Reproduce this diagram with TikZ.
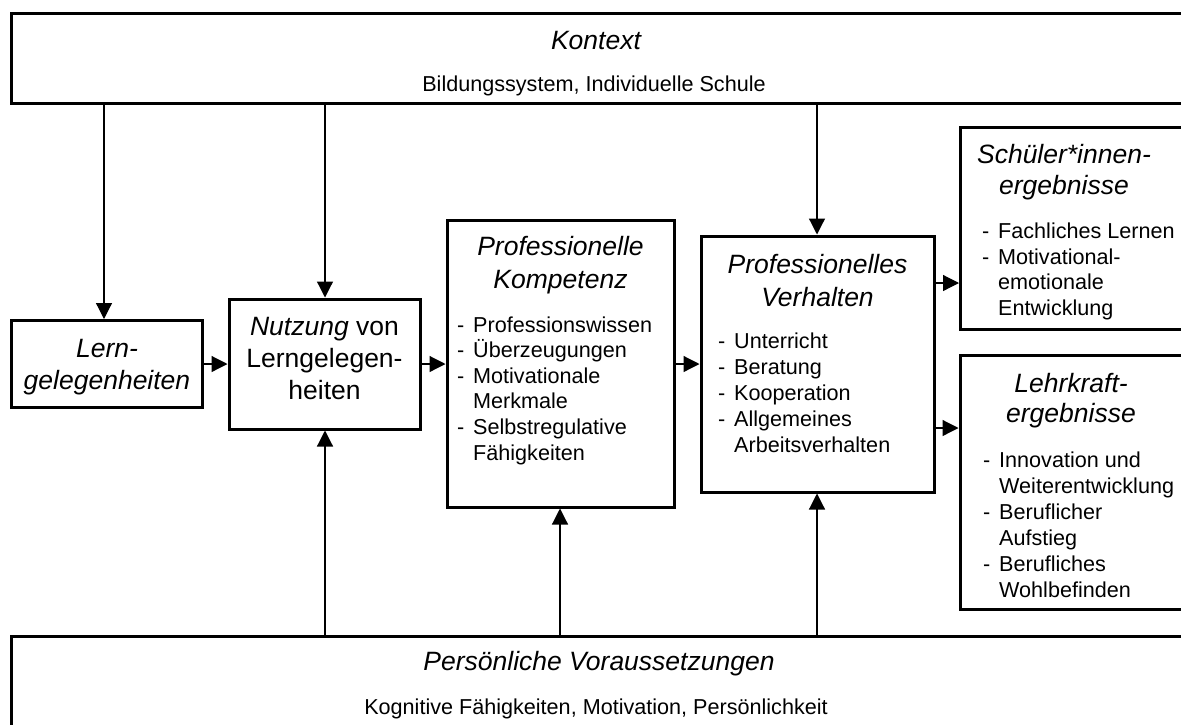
\documentclass[tikz,border=0pt]{standalone}
\usepackage{fontspec}
\setmainfont{Liberation Sans}
\usetikzlibrary{arrows.meta}
\newcommand\itm[1]{\makebox[16pt][l]{-}#1}
\newcommand\cnt[1]{\hspace*{16pt}#1}
\begin{document}
\begin{tikzpicture}[x=1pt,y=-1pt,
  box/.style={draw=black, line width=3pt, rectangle, inner sep=0pt},
  arr/.style={line width=1.2pt, -{Triangle[length=16pt,width=16pt]}},
  ttl/.style={inner sep=0pt, anchor=base, align=center, font=\fontsize{26.5}{32}\selectfont\itshape},
  ttlup/.style={inner sep=0pt, anchor=base, align=center, font=\fontsize{26.5}{32}\selectfont},
  sub/.style={inner sep=0pt, anchor=base, font=\fontsize{21.6}{26}\selectfont},
  lst/.style={inner sep=0pt, anchor=base west, align=left, font=\fontsize{21.6}{25.8}\selectfont},
]
\useasboundingbox (0,0) rectangle (1181,724);
\fill[white] (0,0) rectangle (1181,724);
\clip (0,0) rectangle (1181,724);

% boxes
\node[box, minimum width=1188.5pt, minimum height=90.5pt] (kontext) at (605.75,58.25) {};
\node[box, minimum width=1188.5pt, minimum height=144pt] (pers) at (605.75,708) {};
\node[box, minimum width=190.5pt, minimum height=86.5pt] (lern) at (106.75,363.75) {};
\node[box, minimum width=191pt, minimum height=130pt] (nutz) at (324.5,364) {};
\node[box, minimum width=227pt, minimum height=287pt] (komp) at (560.5,363.5) {};
\node[box, minimum width=233pt, minimum height=256pt] (verh) at (817.5,364) {};
\node[box, minimum width=239.5pt, minimum height=202pt] (schuel) at (1080.25,228) {};
\node[box, minimum width=240pt, minimum height=254pt] (lehr) at (1080,482) {};

% texts (multi-line nodes are placed by the baseline of their last line)
\node[ttl] (kontextT) at (596,49.5) {Kontext};
\node[sub] (kontextS) at (594,91) {Bildungssystem, Individuelle Schule};
\node[ttl] (persT) at (599,670) {Persönliche Voraussetzungen};
\node[sub] (persS) at (596,714) {Kognitive Fähigkeiten, Motivation, Persönlichkeit};

\node[ttl] (lernT) at (107,389) {Lern-\\gelegenheiten};
\node[ttlup] (nutzT) at (324.5,399) {\textit{Nutzung} von\\Lerngelegen-\\heiten};

\node[ttl, font=\fontsize{26.5}{33}\selectfont\itshape] (kompT) at (560.5,288) {Professionelle\\Kompetenz};
\node[lst, font=\fontsize{21.6}{25.6}\selectfont] (kompL) at (457,460) {\itm{Professionswissen}\\\itm{Überzeugungen}\\\itm{Motivationale}\\\cnt{Merkmale}\\\itm{Selbstregulative}\\\cnt{Fähigkeiten}};

\node[ttl, font=\fontsize{26.5}{33}\selectfont\itshape] (verhT) at (817.5,306) {Professionelles\\Verhalten};
\node[lst, font=\fontsize{21.6}{26}\selectfont] (verhL) at (718,452) {\itm{Unterricht}\\\itm{Beratung}\\\itm{Kooperation}\\\itm{Allgemeines}\\\cnt{Arbeitsverhalten}};

\node[ttl, font=\fontsize{26.5}{31}\selectfont\itshape] (schuelT) at (1064,194) {Schüler*innen-\\ergebnisse};
\node[lst, font=\fontsize{21.6}{25.7}\selectfont] (schuelL) at (982,315.6) {\itm{Fachliches Lernen}\\\itm{Motivational-}\\\cnt{emotionale}\\\cnt{Entwicklung}};

\node[ttl, font=\fontsize{26.5}{30}\selectfont\itshape] (lehrT) at (1071,422) {Lehrkraft-\\ergebnisse};
\node[lst, font=\fontsize{21.6}{26}\selectfont] (lehrL) at (983,597) {\itm{Innovation und}\\\cnt{Weiterentwicklung}\\\itm{Beruflicher}\\\cnt{Aufstieg}\\\itm{Berufliches}\\\cnt{Wohlbefinden}};

% connector columns and rows
\coordinate (c1) at (104,0);
\coordinate (c2) at (325,0);
\coordinate (c3) at (817,0);
\coordinate (c4) at (560,0);
\coordinate (r1) at (0,364);
\coordinate (r2) at (0,283);
\coordinate (r3) at (0,428);

\draw[arr] (c1 |- kontext.south) -- (c1 |- lern.north);
\draw[arr] (c2 |- kontext.south) -- (c2 |- nutz.north);
\draw[arr] (c3 |- kontext.south) -- (c3 |- verh.north);
\draw[arr] (c2 |- pers.north) -- (c2 |- nutz.south);
\draw[arr] (c4 |- pers.north) -- (c4 |- komp.south);
\draw[arr] (c3 |- pers.north) -- (c3 |- verh.south);

\draw[arr] (lern.east |- r1) -- (nutz.west |- r1);
\draw[arr] (nutz.east |- r1) -- (komp.west |- r1);
\draw[arr] (komp.east |- r1) -- (verh.west |- r1);
\draw[arr] (verh.east |- r2) -- (schuel.west |- r2);
\draw[arr] (verh.east |- r3) -- (lehr.west |- r3);
\end{tikzpicture}
\end{document}
